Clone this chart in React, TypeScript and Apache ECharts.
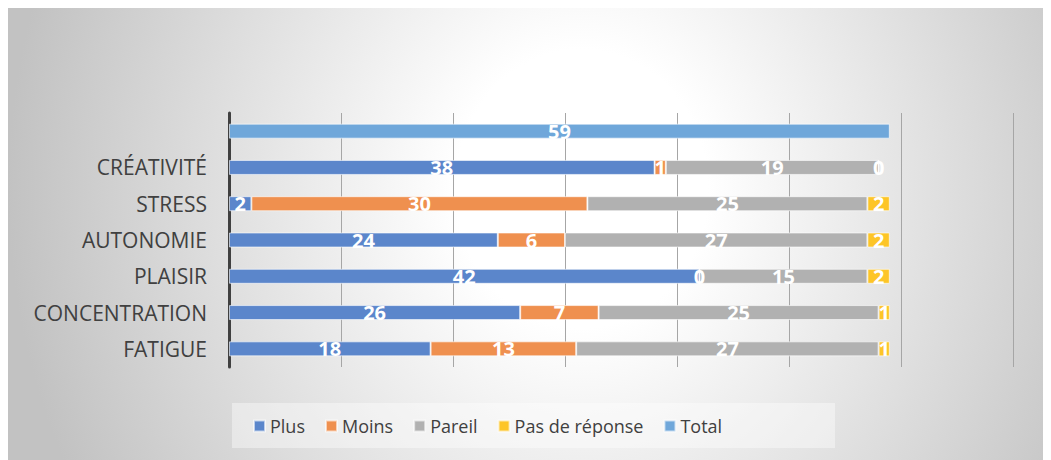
import React, { useEffect, useRef } from "react";
import * as echarts from "echarts";

const categories = ["FATIGUE", "CONCENTRATION", "PLAISIR", "AUTONOMIE", "STRESS", "CRÉATIVITÉ", ""];
const plus = [18, 26, 42, 24, 2, 38, "-"];
const moins = [13, 7, 0, 6, 30, 1, "-"];
const pareil = [27, 25, 15, 27, 25, 19, "-"];
const pasDeReponse = [1, 1, 2, 2, 2, 0, "-"];
const total = ["-", "-", "-", "-", "-", "-", 59];

const seriesNames = ["Plus", "Moins", "Pareil", "Pas de réponse", "Total"];
const seriesColors = ["#5b86cb", "#ef904f", "#b1b1b1", "#fdc527", "#6fa7da"];

export default function App() {
  const ref = useRef<HTMLDivElement>(null);
  useEffect(() => {
    if (!ref.current) return;
    const chart = echarts.init(ref.current, undefined, { renderer: "svg" });
    const datasets = [plus, moins, pareil, pasDeReponse, total];
    chart.setOption({
      animation: false,
      backgroundColor: "transparent",
      textStyle: { fontFamily: "'Open Sans', sans-serif" },
      graphic: [
        {
          type: "rect",
          shape: { x: 224, y: 395, width: 603, height: 45 },
          style: { fill: "rgba(255,255,255,0.4)" },
          z: -1,
        },
      ],
      legend: {
        data: seriesNames,
        left: 240,
        top: 404,
        icon: "rect",
        itemWidth: 11,
        itemHeight: 11,
        itemGap: 20,
        textStyle: { fontSize: 18, color: "#404040", fontFamily: "'Open Sans', sans-serif" },
      },
      grid: { left: 221, right: 38, top: 105, bottom: 93, containLabel: false },
      xAxis: {
        type: "value",
        min: 0,
        max: 70,
        interval: 10,
        axisLabel: { show: false },
        axisLine: { show: false },
        axisTick: { show: false },
        splitLine: { lineStyle: { color: "#a6a6a6", width: 1 } },
      },
      yAxis: {
        type: "category",
        data: categories,
        axisLine: { show: true, lineStyle: { color: "#404040", width: 3 } },
        axisTick: { show: false },
        axisLabel: {
          fontSize: 21,
          color: "#404040",
          margin: 22,
          fontFamily: "'Open Sans', sans-serif",
        },
      },
      series: seriesNames.map((name, i) => ({
        name,
        type: "bar",
        stack: "all",
        barWidth: 15,
        data: datasets[i],
        itemStyle: {
          color: seriesColors[i],
          borderColor: "rgba(255,255,255,0.6)",
          borderWidth: 1,
        },
        label: {
          show: true,
          position: "inside",
          color: "#ffffff",
          fontSize: 20,
          fontWeight: "bold",
          textBorderWidth: 0,
          fontFamily: "'Open Sans', sans-serif",
        },
      })),
    });
    return () => chart.dispose();
  }, []);
  return (
    <div
      style={{
        width: 1043,
        height: 452,
        background:
          "radial-gradient(ellipse 55% 140% at 55% 40%, #ffffff 22%, #c2c2c2 100%)",
      }}
    >
      <div ref={ref} style={{ width: 1043, height: 452 }} />
    </div>
  );
}
